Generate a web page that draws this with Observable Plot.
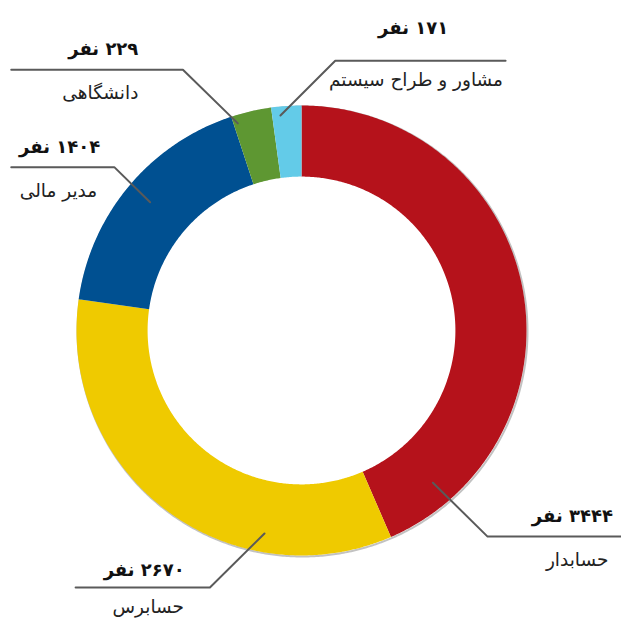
<!DOCTYPE html>
<html>
<head>
<meta charset="utf-8">
<script src="https://cdn.jsdelivr.net/npm/d3@7"></script>
<script src="https://cdn.jsdelivr.net/npm/@observablehq/plot@0.6"></script>
<style>
  html, body { margin: 0; padding: 0; background: #fff; }
  #chart svg { display: block; }
</style>
</head>
<body>
<div id="chart"></div>
<script>
// ---- data ----
const names = ["حسابدار", "حسابرس", "مدیر مالی", "دانشگاهی", "مشاور و طراح سیستم"];
const counts = [3444, 2670, 1404, 229, 171];
const colors = ["#B5121B", "#EFCA00", "#005091", "#5E9732", "#63CBE8"];
const unitWord = "نفر";

// ---- label layout (in units of outer radius, centre at 0,0) ----
const anchorT = [0.889, 0.278, 0.506, 0.106, 0.28];   // position along slice
const anchorR = [0.894, 0.917, 0.882, 0.963, 0.96];
const elbowX = [0.827, -0.407, -0.832, -0.527, 0.150];
const elbowY = [-0.916, -1.142, 0.726, 1.159, 1.199];
const endX = [1.43, -1.004, -1.29, -1.29, 0.907];
const numX = [1.204, -0.699, -1.075, -0.881, 0.496];
const numY = [-0.827, -1.066, 0.814, 1.252, 1.345];
const labX = [1.225, -0.681, -1.080, -0.894, 0.509];
const labY = [-1.022, -1.228, 0.618, 1.053, 1.111];

const W = 621, H = 620, R = 225, CX = 301, CY = 330;
const inner = 0.684;

const toFa = (v) => String(v).replace(/\d/g, (d) => "۰۱۲۳۴۵۶۷۸۹"[d]);

const total = d3.sum(counts);
let acc = 0;
const slices = names.map((n, i) => {
  const a0 = (acc / total) * 2 * Math.PI;
  acc += counts[i];
  const a1 = (acc / total) * 2 * Math.PI;
  return {name: n, a0, a1, i};
});

// polygon vertices for each ring slice
const pts = [];
for (const s of slices) {
  const steps = Math.max(4, Math.ceil((s.a1 - s.a0) / (Math.PI / 360)));
  for (let k = 0; k <= steps; k++) {
    const a = s.a0 + (s.a1 - s.a0) * k / steps;
    pts.push({name: s.name, x: Math.sin(a), y: Math.cos(a)});
  }
  for (let k = steps; k >= 0; k--) {
    const a = s.a0 + (s.a1 - s.a0) * k / steps;
    pts.push({name: s.name, x: inner * Math.sin(a), y: inner * Math.cos(a)});
  }
}

// outer shadow ring
const shadow = d3.range(0, 721).map((k) => {
  const a = k / 720 * 2 * Math.PI;
  return {x: Math.sin(a), y: Math.cos(a)};
});

// leader lines
const leaders = [];
slices.forEach((s, i) => {
  const a = s.a0 + (s.a1 - s.a0) * anchorT[i];
  leaders.push({name: s.name, x: anchorR[i] * Math.sin(a), y: anchorR[i] * Math.cos(a)});
  leaders.push({name: s.name, x: elbowX[i], y: elbowY[i]});
  leaders.push({name: s.name, x: endX[i], y: elbowY[i]});
});

const numLabels = names.map((n, i) => ({text: toFa(counts[i]) + " " + unitWord, x: numX[i], y: numY[i]}));
const nameLabels = names.map((n, i) => ({text: n, x: labX[i], y: labY[i]}));

const font = "DejaVu Sans";

const chart = Plot.plot({
  width: W,
  height: H,
  margin: 0,
  x: {domain: [-CX / R, (W - CX) / R], axis: null},
  y: {domain: [-(H - CY) / R, CY / R], axis: null},
  color: {domain: names, range: colors},
  style: {fontFamily: font, direction: "rtl", background: "#fff"},
  marks: [
    Plot.line(shadow, {x: "x", y: "y", stroke: "#9a9a9a", strokeWidth: 2, strokeOpacity: 0.6, dx: 1, dy: 1}),
    Plot.line(pts, {x: "x", y: "y", z: "name", fill: "name", stroke: "none", curve: "linear-closed"}),
    Plot.line(leaders, {x: "x", y: "y", z: "name", stroke: "#5a5a5a", strokeWidth: 2}),
    Plot.text(numLabels, {x: "x", y: "y", text: "text", fontSize: 18, fontWeight: "bold", fill: "#111", fontFamily: font}),
    Plot.text(nameLabels, {x: "x", y: "y", text: "text", fontSize: 18.5, fill: "#222", fontFamily: font})
  ]
});

document.getElementById("chart").appendChild(chart);
</script>
</body>
</html>
